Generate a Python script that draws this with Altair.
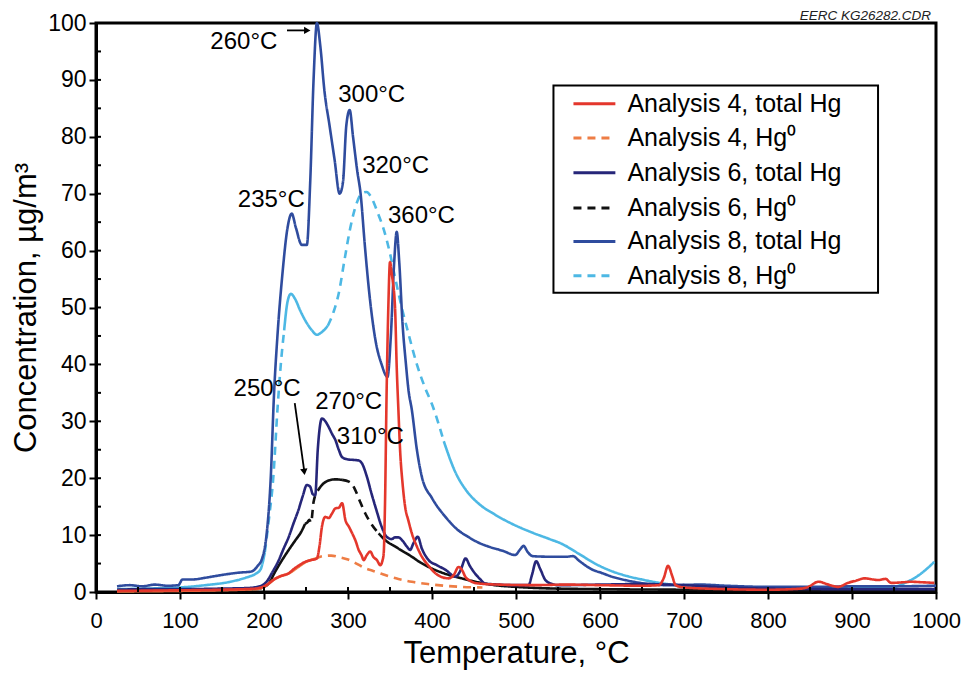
import altair as alt
import pandas as pd

# ---------------- data ----------------
series_names = [
    "Analysis 4, total Hg", "Analysis 4, Hg⁰",
    "Analysis 6, total Hg", "Analysis 6, Hg⁰",
    "Analysis 8, total Hg", "Analysis 8, Hg⁰",
]
series_colors = ["#E4372C", "#EE7D45", "#262679", "#111111", "#2F4C9E", "#4DB8E4"]
series_styles = ["solid", "dash", "solid", "dash", "solid", "dash"]

# Analysis 8, total Hg
a8_total_T = [25, 40, 55, 70, 85, 98, 103, 115, 130, 150, 170, 185, 192, 198, 203, 208, 212, 216, 222, 228,
              233, 238, 245, 251, 255, 259, 263, 267, 272, 278, 284, 290, 294, 298, 302, 306, 311, 315, 320,
              325, 333, 340, 347, 351, 355, 358, 361, 365, 369, 372, 376, 382, 388, 400, 416, 430, 443, 455,
              467, 485, 499, 505, 509, 514, 520, 540, 560, 568, 575, 590, 603, 614, 630, 653, 680, 720, 750,
              800, 850, 900, 950, 1000]
a8_total_C = [1.0, 1.2, 1.0, 1.3, 1.1, 1.2, 2.2, 2.2, 2.5, 3.0, 3.4, 3.6, 4.5, 6.0, 10, 20, 35, 45, 56, 64,
              66.5, 64, 61, 61, 72, 90, 100, 96, 88, 82, 76, 70, 72, 82, 84.7, 80, 74, 70, 61,
              53, 44, 40, 37.8, 45, 58, 63.3, 58, 47, 40, 35.5, 32, 25, 20.2, 16.5, 13.2, 11, 9.7, 8.7,
              8.0, 7.2, 6.5, 7.5, 8.1, 7.0, 6.3, 6.2, 6.2, 6.3, 5.5, 4.0, 3.3, 2.7, 2.1, 1.5, 1.2, 1.3, 1.1,
              0.9, 0.9, 1.0, 1.0, 1.1]

# Analysis 8, Hg0
a8_hg0_T = [25, 60, 100, 130, 160, 180, 190, 196, 201, 206, 211, 216, 220, 224, 228, 232, 237, 243, 250,
            257, 263, 269, 276, 283, 289, 296, 303, 310, 316, 322, 328, 335, 344, 350, 356, 364, 372, 382,
            392, 400, 414, 428, 440, 455, 475, 495, 520, 540, 554, 575, 594, 615, 635, 653, 680, 713, 750,
            800, 850, 900, 940, 951, 960, 970, 980, 990, 998]
a8_hg0_C = [0.5, 0.6, 0.8, 1.2, 1.8, 2.6, 3.2, 4.0, 7, 13, 20, 32, 40, 46, 51, 52.4, 51.5, 49.5, 47.5,
            46, 45.2, 45.7, 46.8, 49.3, 52.5, 58.5, 64.2, 68.2, 70, 70.3, 69.3, 66.8, 63, 59.5, 55.3, 50, 45.4, 40,
            35.8, 33, 26.5, 21, 18, 15.6, 13.6, 12, 10.4, 9.3, 8.5, 6.7, 5.0, 3.6, 2.7, 2.1, 1.4, 1.0, 0.9,
            0.8, 0.8, 0.8, 0.8, 0.9, 1.4, 2.1, 3.0, 4.2, 5.3]

# Analysis 6, total Hg
a6_total_T = [25, 60, 100, 150, 180, 195, 203, 210, 217.6, 223, 229.5, 235, 241, 246, 251, 255, 258, 261,
              264, 269, 273, 277, 281, 285, 289, 293, 300, 308, 313, 317, 322, 328, 334, 340, 346, 352, 356,
              360, 365, 370, 374, 378, 383, 388, 396, 406, 416, 428, 434, 440, 445, 451, 457, 463, 480, 495,
              515, 519, 524, 529, 535, 543, 550, 600, 650, 700, 750, 800, 900, 1000]
a6_total_C = [0.4, 0.5, 0.5, 0.6, 0.7, 1.0, 1.8, 3.5, 5.6, 7.5, 9.7, 12, 14.4, 16.8, 18.8, 18.5, 17.2, 17,
              25, 30.5, 30, 29, 27.8, 26.7, 25, 23.7, 23.3, 23.2, 23.1, 22.5, 20.5, 17.3, 14.3, 11.5, 9.7, 9.3, 9.6,
              9.6, 9.0, 8.0, 7.4, 8.6, 9.7, 7.6, 5.6, 4.7, 3.9, 2.7, 3.8, 5.9, 4.6, 3.3, 2.3, 1.5, 1.3, 1.2,
              1.2, 3.0, 5.4, 4.0, 2.1, 1.4, 1.2, 1.3, 1.4, 1.2, 0.8, 0.6, 0.5, 0.5]

# Analysis 6, Hg0
a6_hg0_T = [25, 100, 150, 190, 200, 205.7, 213, 221.5, 229, 237.4, 244, 249, 252, 254, 256, 259, 264, 269,
            277, 285, 293, 301, 305, 308.7, 314, 320.6, 328, 336.5, 346, 356, 366, 376, 386, 396, 410, 420,
            435.6, 455, 475, 500, 535, 600, 700, 800, 900, 1000]
a6_hg0_C = [0.1, 0.2, 0.3, 0.5, 0.9, 1.5, 3.5, 5.6, 7.3, 9.1, 10.5, 12, 12.3, 12.7, 12.2, 15.8, 17.8, 18.8,
            19.6, 19.8, 19.7, 19.4, 18.9, 17.9, 16, 13.8, 11.9, 10.3, 8.9, 8.0, 7.1, 6.2, 5.2, 4.4, 3.5, 3.0,
            2.4, 1.7, 1.2, 0.9, 0.65, 0.5, 0.4, 0.3, 0.3, 0.3]

# Analysis 4, total Hg
a4_total_T = [25, 100, 150, 190, 200, 205.7, 212, 220, 229.5, 236, 243, 249, 256, 263, 266, 269, 273, 277,
              281, 285, 289, 293, 297, 301, 305, 309, 312.7, 316, 318.7, 322, 326.6, 330, 334.5, 338.4, 341,
              342.5, 344, 346, 348, 350, 352, 356, 358, 360, 362, 365, 368, 372, 376, 382, 388, 396, 404, 412,
              420, 426, 431.6, 436, 439.6, 445, 455, 480, 520, 560, 600, 650, 670, 676, 681, 686, 690, 700,
              750, 800, 840, 848, 860, 872, 883.5, 895, 905, 915, 925, 931, 940, 946.5, 960, 970, 985, 998]
a4_total_C = [0.2, 0.3, 0.4, 0.6, 1.0, 1.5, 2.2, 2.8, 3.3, 4.1, 4.8, 5.3, 5.6, 5.9, 8, 11.5, 13.2, 13.0,
              13.8, 14.7, 14.8, 15.6, 12.6, 11.5, 10.3, 9.0, 7.4, 6.5, 5.6, 6.4, 7.1, 6.2, 5.6, 4.7, 5.5,
              6.8, 15, 35.4, 50, 58, 56, 50, 39.5, 32, 25, 19, 15, 12.5, 10.3, 8.0, 6.2, 4.6, 3.3, 2.6,
              2.4, 3.0, 4.4, 3.8, 2.7, 2.0, 1.5, 1.3, 1.2, 1.3, 1.2, 1.1, 1.2, 2.5, 4.6, 2.8, 1.2, 0.8,
              0.5, 0.4, 0.6, 0.9, 1.8, 1.3, 0.9, 1.6, 2.0, 2.4, 2.2, 2.1, 2.3, 1.6, 1.7, 1.8, 1.7, 1.6]

# Analysis 4, Hg0
a4_hg0_T = [25, 100, 190, 200, 206, 212, 220, 230, 240, 250, 260, 270, 280, 290, 300, 310, 320, 330, 340,
            350, 360, 376, 395, 415, 435, 460]
a4_hg0_C = [0.1, 0.2, 0.5, 0.9, 1.5, 2.2, 2.8, 3.3, 4.3, 5.3, 5.8, 6.3, 6.4, 6.1, 5.7, 5.0, 4.2, 3.7, 3.2,
            2.7, 2.3, 1.8, 1.4, 1.1, 0.9, 0.8]

# temperature ranges in which the Hg0 traces are drawn dashed
dash_ranges = {
    "Analysis 4, Hg⁰": [(262, 470)],
    "Analysis 6, Hg⁰": [(247, 262), (296, 338)],
    "Analysis 8, Hg⁰": [(199, 224), (278, 420)],
}

# annotations
ann_text = ["260°C", "300°C", "320°C", "235°C", "360°C", "250°C", "270°C", "310°C"]
ann_T = [176, 328.2, 356.7, 208.7, 387.4, 203.7, 300.8, 326.6]
ann_C = [96.7, 87.3, 74.9, 68.9, 66.1, 35.7, 33.4, 27.2]

arrow_T = [227.4, 236.6]
arrow_C = [98.7, 33.2]
arrow_T2 = [250.5, 247.6]
arrow_C2 = [98.7, 21.6]
head_T = [251.5, 247.9]
head_C = [98.7, 21.1]
head_angle = [90, 172]

# legend layout (data coordinates)
leg_box_T, leg_box_T2 = [544.6], [931]
leg_box_C, leg_box_C2 = [89.0], [52.6]
leg_row_C = [85.8, 79.8, 73.7, 67.5, 61.6, 55.6]
leg_line_T, leg_line_T2, leg_text_T = 568.4, 618.3, 632.6

x_major = list(range(0, 1001, 100))
y_major = list(range(0, 101, 10))
x_all = list(range(0, 1001, 50))
y_all = list(range(0, 101, 5))

# ---------------- build tables ----------------
series_data = [
    ("Analysis 8, Hg⁰", a8_hg0_T, a8_hg0_C),
    ("Analysis 8, total Hg", a8_total_T, a8_total_C),
    ("Analysis 6, Hg⁰", a6_hg0_T, a6_hg0_C),
    ("Analysis 6, total Hg", a6_total_T, a6_total_C),
    ("Analysis 4, Hg⁰", a4_hg0_T, a4_hg0_C),
    ("Analysis 4, total Hg", a4_total_T, a4_total_C),
]

rows = []
order = 0
for name, Ts, Cs in series_data:
    ranges = dash_ranges.get(name, [])
    styles = []
    for i in range(len(Ts) - 1):
        mid = (Ts[i] + Ts[i + 1]) / 2
        styles.append("dash" if any(a <= mid <= b for a, b in ranges) else "solid")
    runs = []
    for i, s in enumerate(styles):
        if runs and runs[-1][0] == s:
            runs[-1][2] = i + 1
        else:
            runs.append([s, i, i + 1])
    for k, (s, a, b) in enumerate(runs):
        for j in range(a, b + 1):
            rows.append({"series": name, "seg": f"{name}-{k}", "style": s,
                         "T": Ts[j], "C": Cs[j], "ord": order})
            order += 1
lines_df = pd.DataFrame(rows)

ann_df = pd.DataFrame({"T": ann_T, "C": ann_C, "label": ann_text})
arrow_df = pd.DataFrame({"T": arrow_T, "C": arrow_C, "T2": arrow_T2, "C2": arrow_C2})
head_df = pd.DataFrame({"T": head_T, "C": head_C, "angle": head_angle})
box_df = pd.DataFrame({"T": leg_box_T, "T2": leg_box_T2, "C": leg_box_C, "C2": leg_box_C2})
leg_df = pd.DataFrame({
    "series": series_names,
    "style": series_styles,
    "C": leg_row_C,
    "T": [leg_line_T] * 6,
    "T2": [leg_line_T2] * 6,
    "Tt": [leg_text_T] * 6,
})
xt_df = pd.DataFrame({"T": x_all})
yt_df = pd.DataFrame({"C": y_all})
eerc_df = pd.DataFrame({"T": [994], "label": ["EERC KG26282.CDR"]})

# ---------------- encodings ----------------
FONT = "Liberation Sans"
PLOT_W, PLOT_H = 840, 569
x_scale = alt.Scale(domain=[0, 1000], nice=False, zero=False)
y_scale = alt.Scale(domain=[0, 100], nice=False)
X = alt.X("T:Q", scale=x_scale,
          axis=alt.Axis(values=x_major, format="d", title="Temperature, °C", labelPadding=11,
                        labelFontSize=22, titlePadding=7, labelFlush=False))
Y = alt.Y("C:Q", scale=y_scale,
          axis=alt.Axis(values=y_major, format="d", title="Concentration, µg/m³", labelPadding=3,
                        titlePadding=5))
color = alt.Color("series:N", scale=alt.Scale(domain=series_names, range=series_colors), legend=None)
dash = alt.StrokeDash("style:N", scale=alt.Scale(domain=["solid", "dash"], range=[[1, 0], [8, 6]]),
                      legend=None)

lines = alt.Chart(lines_df).mark_line(strokeWidth=2.6, interpolate="monotone").encode(
    x=X, y=Y, color=color, strokeDash=dash, detail="seg:N", order="ord:Q"
)

x_inner = alt.Chart(xt_df).mark_rule(color="black", strokeWidth=2).encode(
    x=X, y=alt.value(PLOT_H), y2=alt.value(PLOT_H - 5)
)
y_inner = alt.Chart(yt_df).mark_rule(color="black", strokeWidth=2).encode(
    y=Y, x=alt.value(0), x2=alt.value(5)
)

ann = alt.Chart(ann_df).mark_text(font=FONT, fontSize=24, color="black", baseline="middle").encode(
    x=X, y=Y, text="label:N"
)
arrows = alt.Chart(arrow_df).mark_rule(color="black", strokeWidth=1.8).encode(
    x=X, y=Y, x2="T2:Q", y2="C2:Q"
)
heads = alt.Chart(head_df).mark_point(shape="triangle-up", filled=True, color="black",
                                      size=55, opacity=1).encode(
    x=X, y=Y, angle=alt.Angle("angle:Q", scale=None)
)

box = alt.Chart(box_df).mark_rect(fill="white", stroke="black", strokeWidth=2).encode(
    x=X, x2="T2:Q", y=Y, y2="C2:Q"
)
leg_lines = alt.Chart(leg_df).mark_rule(strokeWidth=3).encode(
    x=X, x2="T2:Q", y=Y, color=color, strokeDash=dash
)
leg_text = alt.Chart(leg_df).mark_text(font=FONT, fontSize=25, align="left", baseline="middle",
                                       color="black").encode(
    x=alt.X("Tt:Q", scale=x_scale), y=Y, text="series:N"
)
eerc = alt.Chart(eerc_df).mark_text(font=FONT, fontSize=13.5, fontStyle="italic", align="right",
                                    baseline="middle", color="#222222").encode(
    x=X, y=alt.value(-7), text="label:N"
)

chart = alt.layer(
    lines, x_inner, y_inner, ann, arrows, heads, box, leg_lines, leg_text, eerc
).properties(
    width=PLOT_W, height=PLOT_H,
    autosize=alt.AutoSizeParams(type="none"),
    padding={"left": 88, "top": 15, "right": 26, "bottom": 80},
).configure_view(
    stroke="black", strokeWidth=3
).configure_axis(
    domainColor="black", domainWidth=3, tickColor="black", tickWidth=2, tickSize=7,
    labelFont=FONT, labelFontSize=23, labelColor="black",
    titleFont=FONT, titleFontSize=31, titleFontWeight="normal", titleColor="black",
    grid=False
)

chart.save("out.html", embed_options={"renderer": "svg", "actions": False})
